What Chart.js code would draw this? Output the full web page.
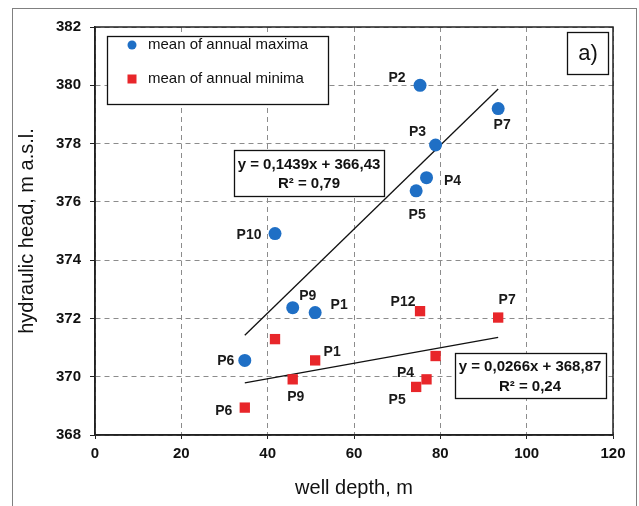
<!DOCTYPE html>
<html>
<head>
<meta charset="utf-8">
<script src="https://cdn.jsdelivr.net/npm/chart.js@4/dist/chart.umd.min.js"></script>
<style>
  body { margin: 0; background: #fff; }
  canvas { display: block; }
</style>
</head>
<body>
<canvas id="myChart" width="639" height="506"></canvas>
<script>
// values
const maxLabels = ['P1', 'P2', 'P3', 'P4', 'P5', 'P6', 'P7', 'P9', 'P10'];
const maxDepth = [51.0, 75.3, 78.9, 76.8, 74.4, 34.7, 93.4, 45.8, 41.7];
const maxHead = [372.2, 380.0, 377.95, 376.83, 376.38, 370.56, 379.2, 372.37, 374.91];

const minLabels = ['P1', 'P12', '', 'P4', 'P5', 'P6', 'P7', 'P9', ''];
const minDepth = [51.0, 75.3, 78.9, 76.8, 74.4, 34.7, 93.4, 45.8, 41.7];
const minHead = [370.56, 372.25, 370.71, 369.91, 369.65, 368.94, 372.03, 369.91, 371.29];

const trendX = [34.7, 93.4];
const trendMaxY = [371.42, 379.87];
const trendMinY = [369.79, 371.35];

const maxEquation = ['y = 0,1439x + 366,43', 'R² = 0,79'];
const minEquation = ['y = 0,0266x + 368,87', 'R² = 0,24'];

const xTicks = [0, 20, 40, 60, 80, 100, 120];
const yTicks = [368, 370, 372, 374, 376, 378, 380, 382];

// label placement around each marker (pixels)
const maxLabelOffsets = [[24, -7], [-23, -7], [-18, -13], [26, 3], [1, 24], [-19, 1], [4, 17], [15, -12], [-26, 2]];
const minLabelOffsets = [[17, -8], [-17, -9], null, [-21, -6], [-19, 13], [-21, 4], [9, -17], [3, 18], null];

const blue = '#1f6fc5';
const red = '#e8262a';
const labelFont = 'bold 14px "Liberation Sans", Arial, sans-serif';

function toPoints(xs, ys) {
  return xs.map((x, i) => ({ x: x, y: ys[i] }));
}

function drawBox(ctx, x, y, w, h) {
  ctx.fillStyle = '#fff';
  ctx.fillRect(x, y, w, h);
  ctx.strokeStyle = '#111';
  ctx.lineWidth = 1.3;
  ctx.strokeRect(x + 0.5, y + 0.5, w, h);
}

const decorations = {
  id: 'decorations',
  beforeDraw(chart) {
    const ctx = chart.ctx;
    ctx.save();
    ctx.strokeStyle = '#808080';
    ctx.lineWidth = 1;
    ctx.strokeRect(12.5, 8.5, 624, 510);
    ctx.restore();
  },
  afterDraw(chart) {
    const ctx = chart.ctx;
    const xs = chart.scales.x;
    const ys = chart.scales.y;
    const area = chart.chartArea;
    ctx.save();

    // plot frame
    ctx.strokeStyle = '#222';
    ctx.lineWidth = 1.5;
    ctx.strokeRect(area.left, area.top, area.right - area.left, area.bottom - area.top);

    // point labels
    ctx.font = labelFont;
    ctx.fillStyle = '#1a1a1a';
    ctx.textAlign = 'center';
    ctx.textBaseline = 'middle';
    maxLabels.forEach((lab, i) => {
      const off = maxLabelOffsets[i];
      if (!lab || !off) return;
      ctx.fillText(lab, xs.getPixelForValue(maxDepth[i]) + off[0], ys.getPixelForValue(maxHead[i]) + off[1]);
    });
    minLabels.forEach((lab, i) => {
      const off = minLabelOffsets[i];
      if (!lab || !off) return;
      ctx.fillText(lab, xs.getPixelForValue(minDepth[i]) + off[0], ys.getPixelForValue(minHead[i]) + off[1]);
    });

    // legend
    drawBox(ctx, 107, 36, 221, 68);
    ctx.fillStyle = blue;
    ctx.beginPath();
    ctx.arc(132, 45, 4.5, 0, Math.PI * 2);
    ctx.fill();
    ctx.fillStyle = red;
    ctx.fillRect(127.5, 74.5, 9, 9);
    ctx.fillStyle = '#111';
    ctx.font = '15px "Liberation Sans", Arial, sans-serif';
    ctx.textAlign = 'left';
    ctx.fillText(chart.data.datasets[0].label, 148, 45);
    ctx.fillText(chart.data.datasets[1].label, 148, 79);

    // equation boxes
    ctx.font = 'bold 15px "Liberation Sans", Arial, sans-serif';
    ctx.textAlign = 'center';
    drawBox(ctx, 234, 150, 150, 46);
    ctx.fillStyle = '#111';
    ctx.fillText(maxEquation[0], 309, 165);
    ctx.fillText(maxEquation[1], 309, 184);
    drawBox(ctx, 455, 353, 151, 45);
    ctx.fillStyle = '#111';
    ctx.fillText(minEquation[0], 530, 367);
    ctx.fillText(minEquation[1], 530, 387);

    // panel tag
    drawBox(ctx, 567, 32, 41, 42);
    ctx.fillStyle = '#111';
    ctx.font = '22px "Liberation Sans", Arial, sans-serif';
    ctx.fillText('a)', 588, 54);

    ctx.restore();
  }
};

const ctx = document.getElementById('myChart').getContext('2d');
new Chart(ctx, {
  type: 'scatter',
  data: {
    datasets: [{
      label: 'mean of annual maxima',
      data: toPoints(maxDepth, maxHead),
      backgroundColor: blue,
      borderColor: blue,
      pointStyle: 'circle',
      pointRadius: 6.5,
      borderWidth: 0
    }, {
      label: 'mean of annual minima',
      data: toPoints(minDepth, minHead),
      backgroundColor: red,
      borderColor: red,
      pointStyle: 'rect',
      pointRadius: 7.3,
      borderWidth: 0
    }, {
      label: 'trend maxima',
      type: 'line',
      data: toPoints(trendX, trendMaxY),
      borderColor: '#111',
      borderWidth: 1.3,
      pointRadius: 0,
      fill: false
    }, {
      label: 'trend minima',
      type: 'line',
      data: toPoints(trendX, trendMinY),
      borderColor: '#111',
      borderWidth: 1.3,
      pointRadius: 0,
      fill: false
    }]
  },
  options: {
    responsive: false,
    animation: false,
    devicePixelRatio: 1,
    layout: { padding: { top: 27, right: 26, left: 0, bottom: 0 } },
    plugins: {
      legend: { display: false },
      tooltip: { enabled: false }
    },
    scales: {
      x: {
        type: 'linear',
        min: xTicks[0],
        max: xTicks[xTicks.length - 1],
        afterBuildTicks(scale) { scale.ticks = xTicks.map(v => ({ value: v })); },
        afterFit(scale) { scale.height = 71; },
        grid: { color: '#8c8c8c', lineWidth: 1, tickLength: 4, tickColor: '#222' },
        border: { display: true, color: '#222', width: 1.5, dash: [5, 4] },
        ticks: {
          padding: 6,
          color: '#111',
          font: { family: '"Liberation Sans", Arial, sans-serif', size: 15, weight: 'bold' }
        },
        title: {
          display: true,
          text: 'well depth, m',
          color: '#111',
          font: { family: '"Liberation Sans", Arial, sans-serif', size: 20, lineHeight: 1 },
          padding: { top: 0, bottom: 8 }
        }
      },
      y: {
        type: 'linear',
        min: yTicks[0],
        max: yTicks[yTicks.length - 1],
        afterBuildTicks(scale) { scale.ticks = yTicks.map(v => ({ value: v })); },
        afterFit(scale) { scale.width = 95; },
        grid: { color: '#8c8c8c', lineWidth: 1, tickLength: 5, tickColor: '#222' },
        border: { display: true, color: '#222', width: 1.5, dash: [5, 4] },
        ticks: {
          padding: 9,
          color: '#111',
          font: { family: '"Liberation Sans", Arial, sans-serif', size: 15, weight: 'bold' }
        },
        title: {
          display: true,
          text: 'hydraulic head, m a.s.l.',
          color: '#111',
          font: { family: '"Liberation Sans", Arial, sans-serif', size: 20, lineHeight: 1 },
          padding: { top: 17.5, bottom: 0 }
        }
      }
    }
  },
  plugins: [decorations]
});
</script>
</body>
</html>
